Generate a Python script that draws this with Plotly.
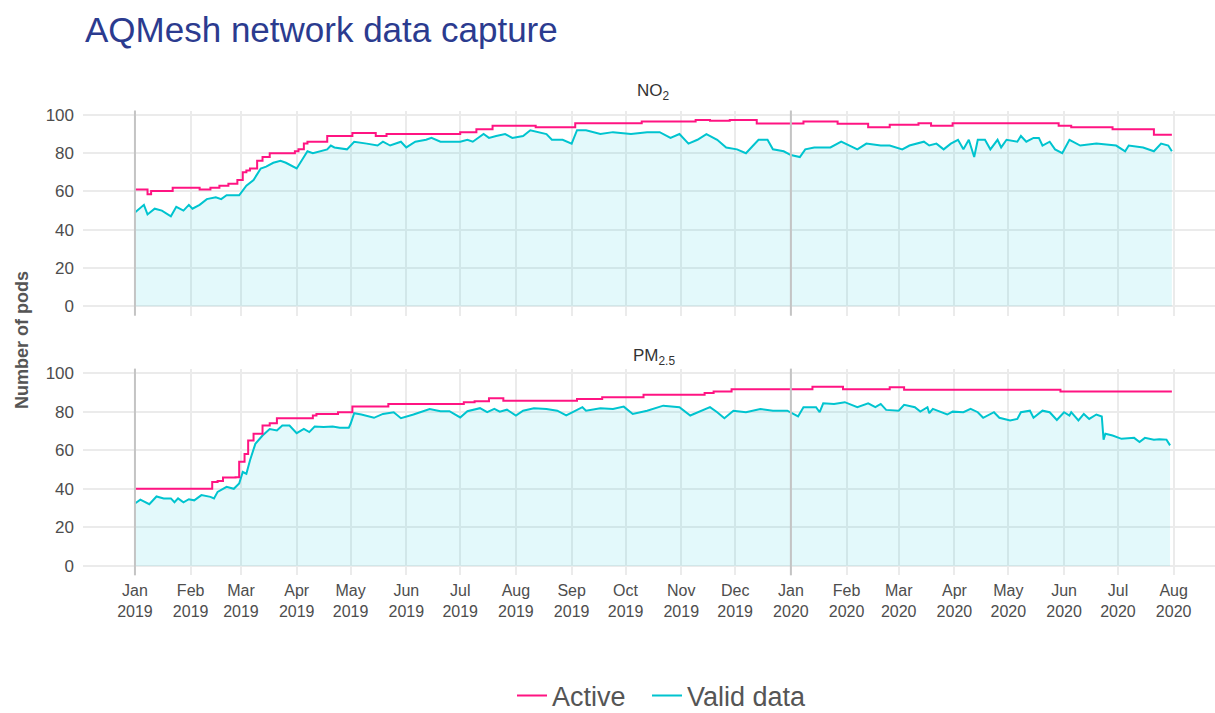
import pandas as pd
import plotly.graph_objects as go

BASE_DATE = "2019-01-01"

# ---- data (day offsets from 1 Jan 2019) ----
no2_active_day = [0, 7, 9, 21, 36, 42, 47, 52, 57, 60, 62, 64, 68, 71, 75, 89, 91, 94, 96, 107,
                  121, 134, 140, 181, 190, 199, 223, 245, 282, 312, 320, 331, 346, 372, 391, 408,
                  420, 436, 443, 455, 514, 521, 544, 567, 577]
no2_active = [61, 58.5, 60.3, 62, 61, 62, 63, 64, 66, 70, 71, 72, 76, 78, 80, 81, 82, 85, 86, 89,
              90.5, 89, 90, 91, 92.5, 94.3, 93.6, 95.7, 96.5, 97.4, 96.9, 97.4, 95.5, 96.5, 95.4, 93.6,
              94.8, 95.7, 94.4, 95.7, 94.4, 93.6, 92.5, 89.6, 89.6]

no2_valid_day = [0, 5, 7, 11, 15, 20, 23, 27, 30, 32, 36, 40, 45, 48, 51, 58, 62, 66, 70, 73, 77, 81,
                 84, 90, 94, 96, 99, 107, 109, 111, 118, 122, 129, 135, 138, 142, 148, 151, 156, 162,
                 165, 170, 177, 181, 185, 188, 194, 197, 201, 206, 210, 216, 220, 225, 229, 232, 238,
                 243, 246, 251, 259, 266, 276, 285, 292, 298, 303, 308, 313, 318, 324, 329, 335, 340,
                 343, 347, 352, 355, 361, 365, 370, 373, 378, 387, 393, 402, 407, 415, 420, 427, 431,
                 439, 442, 446, 450, 454, 458, 461, 464, 467, 469, 473, 476, 480, 482, 485, 491, 493,
                 496, 500, 503, 505, 509, 512, 516, 520, 526, 535, 546, 551, 553, 561, 567, 571, 575, 577]
no2_valid = [49, 53, 48, 51, 50, 47, 52, 50, 53, 51, 53, 56, 57, 56, 58, 58, 63, 66, 72, 73, 75, 76,
             75, 72, 78, 81, 80, 82, 84, 83, 82, 86, 85, 84, 86, 84, 86, 83, 86, 87,
             88, 86, 86, 86, 87, 86, 90, 88, 89, 90, 88, 89, 92, 91, 90, 87, 87,
             85, 92, 92, 90, 91, 90, 91, 91, 88, 90, 85, 87, 90, 87, 83, 82, 80,
             83, 87, 87, 82, 81, 79, 78, 82, 83, 83, 86, 82, 85, 84, 84, 82, 84,
             86, 84, 85, 82, 85, 87, 82, 87, 78, 87, 87, 82, 87, 83, 87, 86, 89,
             86, 88, 88, 84, 86, 82, 80, 87, 84, 85, 84, 81, 84, 83, 81, 85, 84, 81]

pm25_active_day = [0, 43, 46, 49, 56, 58, 61, 63, 66, 71, 75, 79, 99, 101, 113, 121, 141, 183, 189,
                   197, 205, 246, 260, 283, 317, 322, 332, 377, 394, 420, 428, 515, 577]
pm25_active = [40, 43.5, 44, 45.8, 46, 54, 58, 65, 68.5, 72.8, 74, 76.6, 78, 78.8, 79.7, 82.6, 84, 84.9, 85.4,
               86.9, 85.7, 86.6, 87.4, 88.8, 89.7, 90.5, 91.6, 92.9, 91.6, 92.6, 91.4, 90.5, 90.5]

pm25_valid_day = [0, 3, 8, 12, 16, 20, 22, 24, 27, 30, 33, 37, 42, 44, 46, 51, 55, 58, 60, 62, 64, 67,
                  71, 75, 79, 82, 86, 90, 94, 97, 100, 105, 110, 114, 119, 120, 122, 126, 133, 138, 144,
                  148, 155, 161, 164, 170, 175, 181, 185, 192, 196, 200, 203, 207, 212, 216, 222, 229,
                  235, 240, 246, 249, 251, 259, 266, 272, 277, 285, 294, 303, 309, 314, 320, 324, 328,
                  333, 340, 348, 355, 363, 369, 372, 379, 381, 383, 389, 395, 402, 408, 412, 415, 418,
                  425, 428, 434, 437, 441, 442, 444, 452, 455, 461, 465, 469, 472, 478, 481, 487, 491,
                  493, 498, 500, 505, 509, 513, 517, 520, 521, 525, 528, 531, 535, 538, 539, 540, 544,
                  549, 556, 559, 562, 567, 570, 574, 576]
pm25_valid = [32.4, 34.4, 32, 36, 35, 35, 33, 35, 33, 34.6, 34, 36.7, 35.8, 35, 38.4, 41, 40, 42.7, 48.7, 47.8, 54.7, 63.3,
              67.6, 71, 70.2, 72.8, 72.8, 68.8, 71, 69.4, 72.3, 72, 72.3, 71.6, 71.6, 73.7, 79.2, 78.5, 76.8, 78.8, 79.7,
              76.6, 78.5, 80.2, 81.4, 80.2, 80.2, 77, 80.2, 81.8, 79.7, 81.4, 80, 81, 78, 80.5, 81.8, 81.4,
              80.5, 78, 81, 82.3, 80.5, 81.8, 81.4, 82.6, 78.8, 80.5, 83.1, 82.3, 78, 80, 82.3, 79.7, 76.6,
              80.5, 79.7, 81.4, 80.5, 80.5, 77.5, 82.3, 82.3, 79.7, 84.3, 84, 84.9, 82.3, 84.3, 82.3, 84, 80.9,
              80.5, 83.5, 82.3, 80, 82.3, 79.2, 81.4, 78.5, 80, 79.7, 81.4, 79.7, 76.8, 79.7, 76.8, 75.4, 76.2,
              79.7, 80.5, 76.8, 80.5, 79.7, 75.7, 79.7, 78, 79.7, 75.4, 78.8, 76.2, 78.5, 77.5, 65.4, 68.5, 67.6,
              65.9, 66.4, 64.2, 66.4, 65.4, 65.7, 65.5, 62.5]

month_ticks = ["2019-01-01", "2019-02-01", "2019-03-01", "2019-04-01", "2019-05-01", "2019-06-01",
               "2019-07-01", "2019-08-01", "2019-09-01", "2019-10-01", "2019-11-01", "2019-12-01",
               "2020-01-01", "2020-02-01", "2020-03-01", "2020-04-01", "2020-05-01", "2020-06-01",
               "2020-07-01", "2020-08-01"]
month_labels = ["Jan<br>2019", "Feb<br>2019", "Mar<br>2019", "Apr<br>2019", "May<br>2019", "Jun<br>2019",
                "Jul<br>2019", "Aug<br>2019", "Sep<br>2019", "Oct<br>2019", "Nov<br>2019", "Dec<br>2019",
                "Jan<br>2020", "Feb<br>2020", "Mar<br>2020", "Apr<br>2020", "May<br>2020", "Jun<br>2020",
                "Jul<br>2020", "Aug<br>2020"]
year_lines = ["2019-01-01", "2020-01-01"]
y_ticks = [0, 20, 40, 60, 80, 100]

# ---- styling ----
FONT = "Liberation Sans, Arial, sans-serif"
ACTIVE_COL = "#FF1482"
VALID_COL = "#00C4CF"
FILL_COL = "rgba(0,196,215,0.11)"
GRID = "#EBEBEB"
TEXT = "#4D4D4D"


def to_dates(days):
    return pd.Timestamp(BASE_DATE) + pd.to_timedelta(days, unit="D")


fig = go.Figure()
panels = [
    ("x", "y", no2_valid_day, no2_valid, no2_active_day, no2_active, True),
    ("x2", "y2", pm25_valid_day, pm25_valid, pm25_active_day, pm25_active, False),
]
for xa, ya, vd, vv, ad, av, show in panels:
    fig.add_trace(go.Scatter(x=to_dates(vd), y=vv, mode="lines", name="Valid data",
                             line=dict(color=VALID_COL, width=2), fill="tozeroy", fillcolor=FILL_COL,
                             xaxis=xa, yaxis=ya, legendgroup="valid", showlegend=False))
    fig.add_trace(go.Scatter(x=to_dates(ad), y=av, mode="lines", name="Active", line_shape="hv",
                             line=dict(color=ACTIVE_COL, width=2),
                             xaxis=xa, yaxis=ya, legendgroup="active", showlegend=show, legend="legend"))

# legend key for the filled series (line only, as in the reference)
fig.add_trace(go.Scatter(x=[None], y=[None], mode="lines", name="Valid data",
                         line=dict(color=VALID_COL, width=2), legendgroup="valid",
                         showlegend=True, legend="legend2"))

x_range = [pd.Timestamp(BASE_DATE) - pd.Timedelta(days=28.9), pd.Timestamp(BASE_DATE) + pd.Timedelta(days=601)]
y_range = [-4.87, 102.3]

xcommon = dict(range=x_range, tickvals=month_ticks, ticktext=month_labels, showgrid=True,
               gridcolor=GRID, gridwidth=2, zeroline=False, showline=False, ticks="",
               tickfont=dict(family=FONT, size=16, color=TEXT))
ycommon = dict(range=y_range, tickvals=y_ticks, showgrid=True, gridcolor=GRID, gridwidth=2,
               zeroline=False, showline=False, ticks="", ticklabelstandoff=8,
               tickfont=dict(family=FONT, size=17, color=TEXT))

legend_common = dict(orientation="h", xanchor="left", y=1 - 696 / 713, yanchor="middle",
                     font=dict(family=FONT, size=27, color="#555555"), itemwidth=30,
                     bgcolor="rgba(0,0,0,0)")

fig.update_layout(
    width=1215, height=713,
    margin=dict(l=83, r=0, t=0, b=0, autoexpand=False),
    plot_bgcolor="white", paper_bgcolor="white",
    font=dict(family=FONT, color=TEXT),
    xaxis=dict(domain=[0, 1], anchor="y", showticklabels=False, **xcommon),
    xaxis2=dict(domain=[0, 1], anchor="y2", matches="x", showticklabels=True, ticklabelstandoff=4, **xcommon),
    yaxis=dict(domain=[0.5574, 0.845], anchor="x", **ycommon),
    yaxis2=dict(domain=[0.1931, 0.483], anchor="x2", **ycommon),
    showlegend=True,
    legend=dict(x=(512 - 83) / 1132, **legend_common),
    legend2=dict(x=(647 - 83) / 1132, **legend_common),
)

for xa, ya in [("x", "y"), ("x2", "y2")]:
    for d in year_lines:
        fig.add_shape(type="line", x0=d, x1=d, xref=xa, y0=0, y1=1, yref=f"{ya} domain",
                      line=dict(color="#C4C4C4", width=2), layer="above")

fig.add_annotation(text="AQMesh network data capture", xref="paper", yref="paper", x=0, y=1 - 30 / 713,
                   xanchor="left", yanchor="middle", showarrow=False,
                   font=dict(family=FONT, size=35, color="#2B3B8F"))
fig.add_annotation(text="NO<sub>2</sub>", xref="paper", yref="paper", x=0.5044, y=1 - 92 / 713,
                   xanchor="center", yanchor="middle", showarrow=False,
                   font=dict(family=FONT, size=17, color="#333333"))
fig.add_annotation(text="PM<sub>2.5</sub>", xref="paper", yref="paper", x=0.5044, y=1 - 357 / 713,
                   xanchor="center", yanchor="middle", showarrow=False,
                   font=dict(family=FONT, size=17, color="#333333"))
fig.add_annotation(text="<b>Number of pods</b>", xref="paper", yref="paper", x=(22 - 83) / 1132,
                   y=1 - 340 / 713, xanchor="center", yanchor="middle", textangle=-90, showarrow=False,
                   font=dict(family=FONT, size=18, color="#555555"))

fig.write_html("out.html", config={"displayModeBar": False},
               post_script="document.body.style.margin='0';document.body.style.overflow='hidden';")
